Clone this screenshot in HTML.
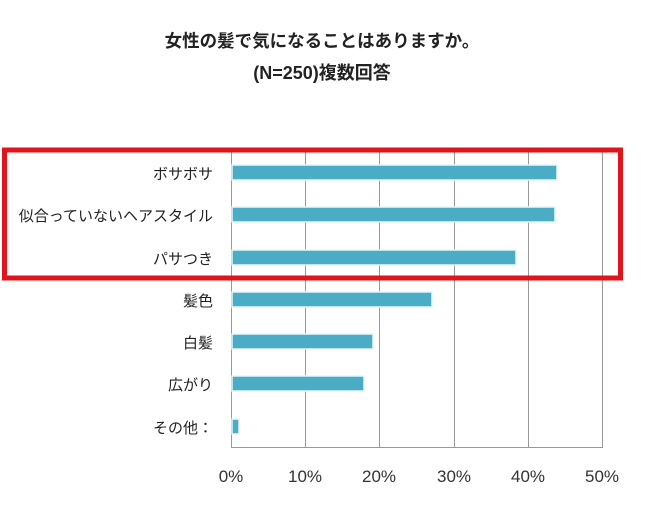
<!DOCTYPE html>
<html><head><meta charset="utf-8"><style>
body{margin:0;background:#fff;}
svg{display:block;font-family:"Liberation Sans","Noto Sans CJK JP",sans-serif;}
</style></head><body>
<svg width="650" height="507" viewBox="0 0 650 507" xmlns="http://www.w3.org/2000/svg">
<text x="322" y="47" text-anchor="middle" font-size="17.5" font-weight="bold" fill="#222">女性の髪で気になることはありますか。</text>
<text x="322" y="79" text-anchor="middle" font-size="18" font-weight="bold" fill="#222">(N=250)複数回答</text>
<g stroke="#999" stroke-width="1">
<line x1="231.5" y1="150" x2="231.5" y2="447"/>
<line x1="305.5" y1="150" x2="305.5" y2="447"/>
<line x1="379.5" y1="150" x2="379.5" y2="447"/>
<line x1="454.5" y1="150" x2="454.5" y2="447"/>
<line x1="528.5" y1="150" x2="528.5" y2="447"/>
<line x1="602.5" y1="150" x2="602.5" y2="447"/>
<line x1="231" y1="447.5" x2="603" y2="447.5"/>
</g>
<g fill="#4bacc6" stroke="#e6f6fa" stroke-width="1.5">
<rect x="232" y="165" width="325" height="15"/>
<rect x="232" y="207" width="323" height="15"/>
<rect x="232" y="250" width="284" height="15"/>
<rect x="232" y="292" width="200" height="15"/>
<rect x="232" y="334" width="141" height="15"/>
<rect x="232" y="376" width="132" height="15"/>
<rect x="232" y="419" width="7" height="15"/>
</g>
<g font-size="15" fill="#222" text-anchor="end">
<text x="213" y="179">ボサボサ</text>
<text x="213" y="221">似合っていないヘアスタイル</text>
<text x="213" y="264">パサつき</text>
<text x="213" y="306">髪色</text>
<text x="213" y="348">白髪</text>
<text x="213" y="390">広がり</text>
<text x="213" y="433">その他：</text>
</g>
<g font-size="17" fill="#333" text-anchor="middle">
<text x="231" y="482">0%</text>
<text x="305" y="482">10%</text>
<text x="379" y="482">20%</text>
<text x="454" y="482">30%</text>
<text x="528" y="482">40%</text>
<text x="602" y="482">50%</text>
</g>
<rect x="4.5" y="150" width="616" height="128" fill="none" stroke="#e0141a" stroke-width="5"/>
</svg>
</body></html>
